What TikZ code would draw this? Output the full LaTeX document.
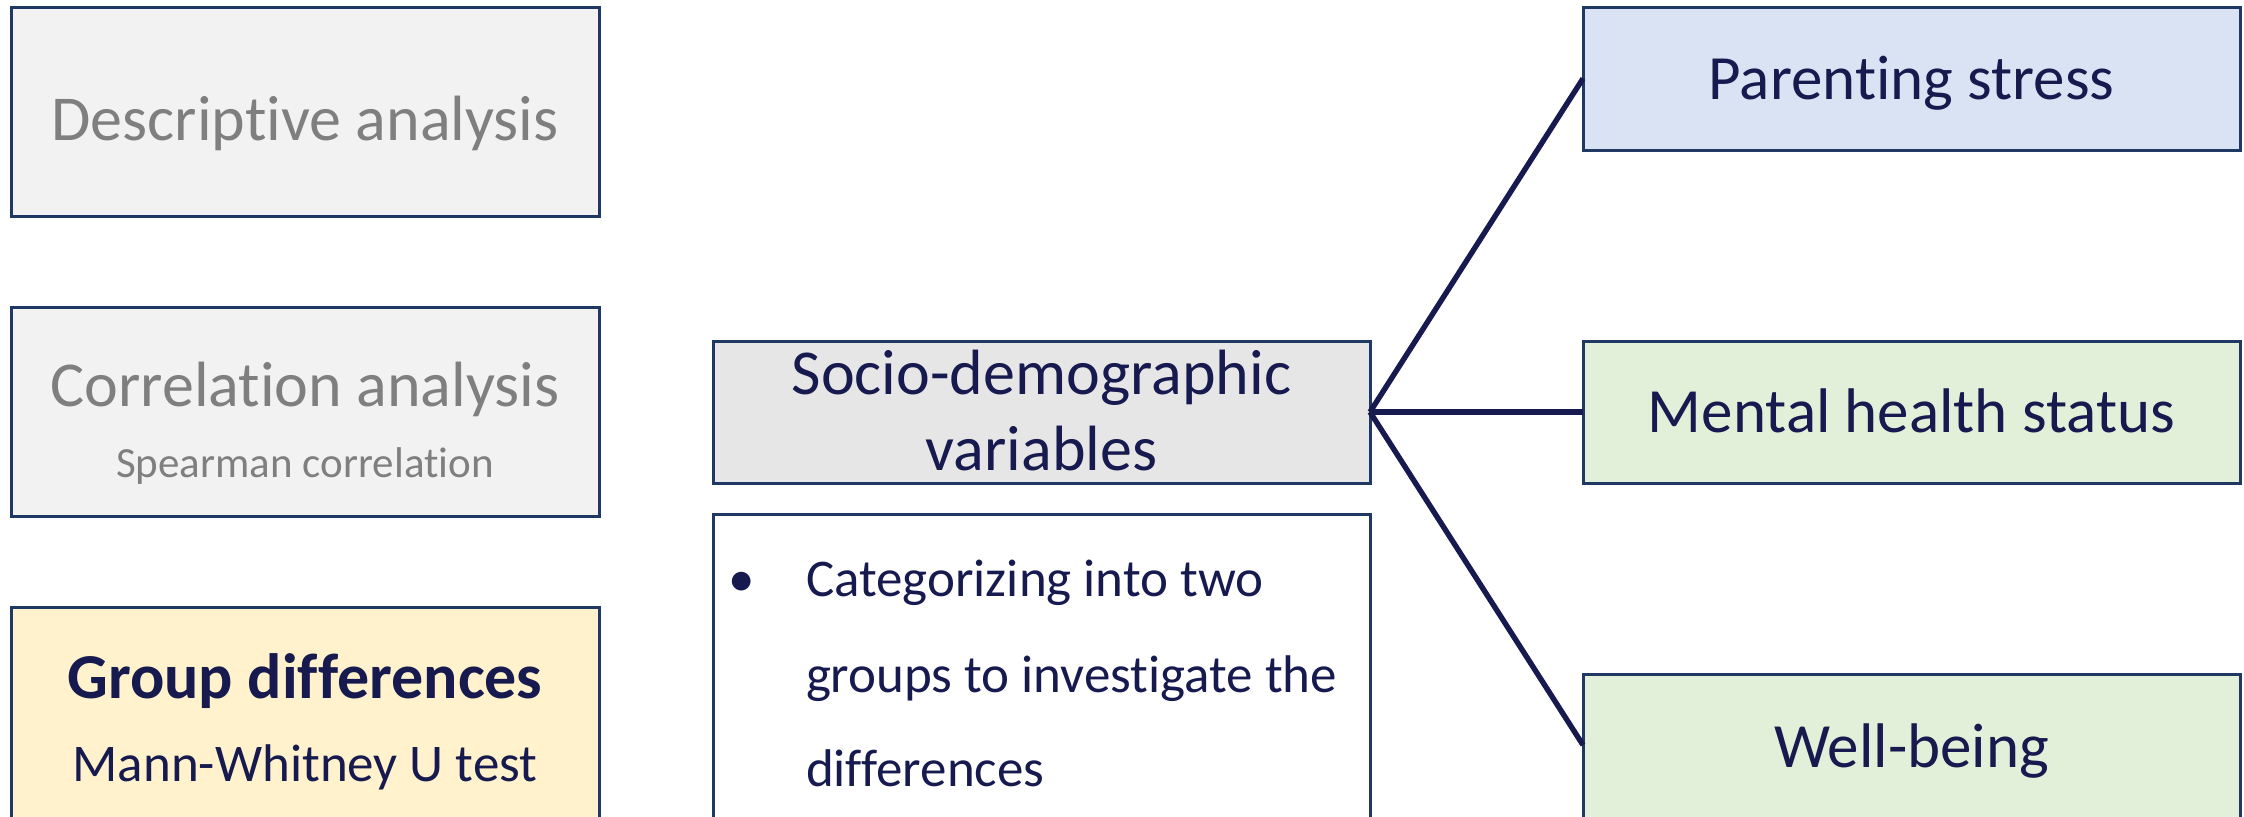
\documentclass[tikz,border=0pt]{standalone}
\usepackage{fontspec}
\setmainfont[Ligatures={NoCommon,NoRare,NoContextual}]{Carlito}
\definecolor{navy}{HTML}{161A4E}
\definecolor{boxline}{HTML}{1F3864}
\definecolor{greytext}{HTML}{7F7F7F}
\definecolor{lightgrey}{HTML}{F2F2F2}
\definecolor{midgrey}{HTML}{E7E6E6}
\definecolor{lightyellow}{HTML}{FFF2CC}
\definecolor{lightblue}{HTML}{DAE3F3}
\definecolor{lightgreen}{HTML}{E2F0D9}
\begin{document}
\begin{tikzpicture}[x=0.5pt,y=-0.5pt,
  box/.style={draw=boxline,line width=1.5pt,inner sep=0pt,outer sep=0pt,rectangle},
  leftbox/.style={box,minimum width=294pt,minimum height=104.5pt},
  midbox/.style={box,minimum width=328.5pt},
  rightbox/.style={box,minimum width=328.5pt},
  txt/.style={inner sep=0pt,outer sep=0pt,anchor=base,text=navy},
  big/.style={font=\fontsize{32pt}{38pt}\selectfont},
  mid/.style={font=\fontsize{26.5pt}{31pt}\selectfont},
  conn/.style={draw=navy,line width=2.7pt}]
\useasboundingbox (0,0) rectangle (2244,816);
% left column
\node[leftbox,fill=lightgrey] (desc) at (305,112) {};
\node[leftbox,fill=lightgrey] (corr) at (305,411.5) {};
\node[box,fill=lightyellow,minimum width=294pt,minimum height=111.5pt] (group) at (305,718.5) {};
% middle column
\node[midbox,fill=midgrey,minimum height=71pt] (socio) at (1041.5,412) {};
\node[midbox,fill=white,minimum height=158pt] (categ) at (1041.5,672) {};
% right column
\node[rightbox,fill=lightblue,minimum height=71.5pt] (parent) at (1911.5,78.5) {};
\node[rightbox,fill=lightgreen,minimum height=71pt] (mental) at (1911.5,412) {};
\node[rightbox,fill=lightgreen,minimum height=78pt] (well) at (1911.5,752) {};
\coordinate (wellin) at ([yshift=-35.5pt]well.north west);
% connectors
\draw[conn] (socio.east) -- (parent.west);
\draw[conn] (socio.east) -- (mental.west);
\draw[conn] (socio.east) -- (wellin);
% texts
\node[txt,big,text=greytext] (tdesc) at (305,140) {Descriptive analysis};
\node[txt,big,text=greytext] (tcorr) at (305,406) {Correlation analysis};
\node[txt,text=greytext,font=\fontsize{21.5pt}{26pt}\selectfont] (tspear) at (305,477) {Spearman correlation};
\node[txt,font=\fontsize{32pt}{38pt}\selectfont\bfseries] (tgroup) at (305,698) {Group differences};
\node[txt,font=\fontsize{26.5pt}{32pt}\selectfont] (tmann) at (305,781) {Mann-Whitney U test};
\node[txt,big] (tsocio1) at (1041.5,394) {Socio-demographic};
\node[txt,big] (tsocio2) at (1041.5,470) {variables};
\node[txt,mid] (tbullet) at (742,596) {•};
\node[txt,mid,anchor=base west] (tcat1) at (806,596) {Categorizing into two};
\node[txt,mid,anchor=base west] (tcat2) at (806,692) {groups to investigate the};
\node[txt,mid,anchor=base west] (tcat3) at (806,786) {differences};
\node[txt,font=\fontsize{31.5pt}{38pt}\selectfont] (tparent) at (1911.5,99) {Parenting stress};
\node[txt,font=\fontsize{31.5pt}{38pt}\selectfont] (tmental) at (1911.5,432) {Mental health status};
\node[txt,font=\fontsize{31.5pt}{38pt}\selectfont] (twell) at (1911.5,767) {Well-being};
\end{tikzpicture}
\end{document}
